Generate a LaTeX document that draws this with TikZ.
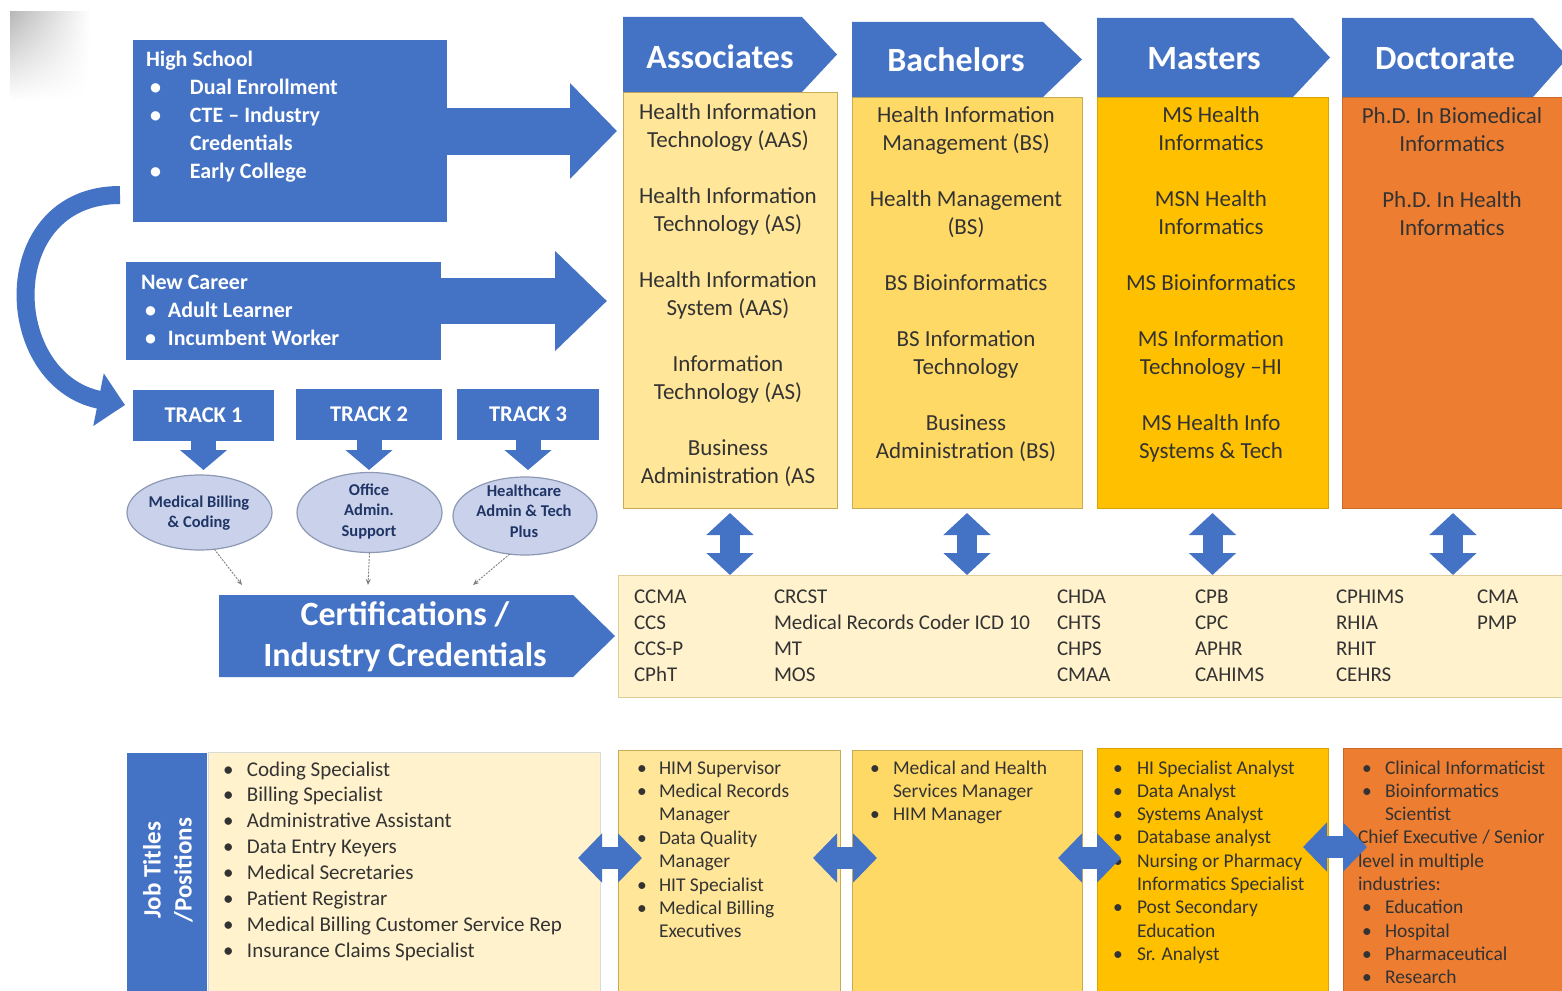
\documentclass[tikz,border=0pt]{standalone}
\usepackage{fontspec}
\setmainfont{Carlito}
\usetikzlibrary{arrows.meta,shapes.geometric,shadings}
\definecolor{bl}{HTML}{4472C4}
\definecolor{cA}{HTML}{FFE699}
\definecolor{cB}{HTML}{FFD966}
\definecolor{cM}{HTML}{FFC000}
\definecolor{cD}{HTML}{ED7D31}
\definecolor{cL}{HTML}{FFF2CC}
\definecolor{bord}{HTML}{C9AA55}
\definecolor{txt}{HTML}{333333}
\definecolor{ellf}{HTML}{C9D2EA}
\definecolor{elld}{HTML}{8C98B4}
\definecolor{navy}{HTML}{1F3566}
\newcommand{\fs}[2]{\fontsize{#1}{#2}\selectfont}
\newcommand{\bx}[2]{\makebox[#1][l]{•}#2}
\newcommand{\ind}[2]{\hspace*{#1}#2}
\newcommand{\fl}[1]{\rule{0pt}{#1pt}}
\begin{document}
\begin{tikzpicture}[x=1pt,y=-1pt,
  every node/.style={inner sep=0pt,outer sep=0pt},
  bluebox/.style={fill=bl},
  colbox/.style={fill=#1,draw=bord,line width=1},
  hdr/.style={text=white,font=\fs{34}{40}\bfseries},
  coltxt/.style={text=txt,align=center,anchor=north,font=\fs{23}{28}},
  wtxt/.style={text=white,align=left,anchor=north west,font=\fs{22}{28}\bfseries},
  certtxt/.style={text=txt,align=left,anchor=north west,font=\fs{21}{26}},
  jobtxt/.style={text=txt,align=left,anchor=north west,font=\fs{19.5}{23.3}},
  elltxt/.style={text=navy,align=center,font=\fs{16.5}{20.5}\bfseries},
  trk/.style={bluebox,minimum height=51,text=white,font=\fs{22.5}{24}\bfseries},
  ellbox/.style={ellipse,fill=ellf,draw=elld,line width=1.2},
  bigarrow/.style={draw=bl,line width=47,-{Triangle[length=47,width=93]}},
  downarrow/.style={draw=bl,line width=25,-{Triangle[length=20,width=46]}},
  vdbl/.style={draw=bl,line width=20,{Triangle[length=22,width=46]}-{Triangle[length=22,width=46]}},
  hdbl/.style={draw=bl,line width=22,{Triangle[length=24,width=48]}-{Triangle[length=24,width=48]}},
  thinarrow/.style={draw=gray,line width=0.9,dash pattern=on 2pt off 1.2pt,-{Stealth[length=6,width=5]}}
]
\useasboundingbox (0,0) rectangle (1562,990);
\fill[white] (0,0) rectangle (1562,990);
\shade[upper left=black!28,upper right=white,lower left=white,lower right=white] (10,12) rectangle (90,100);

% ---------- left blue boxes ----------
\node[bluebox,minimum width=314,minimum height=182] (hs) at (290,131) {};
\node[wtxt] (hst) at (146,44) {\fl{22}High School\\
  \ind{4pt}{\bx{40pt}{Dual Enrollment}}\\
  \ind{4pt}{\bx{40pt}{CTE – Industry}}\\
  \ind{44pt}{Credentials}\\
  \ind{4pt}{\bx{40pt}{Early College}}};
\node[bluebox,minimum width=315,minimum height=98] (nc) at (283.5,311) {};
\node[wtxt] (nct) at (141,267) {\fl{22}New Career\\
  \ind{4pt}{\bx{23pt}{Adult Learner}}\\
  \ind{4pt}{\bx{23pt}{Incumbent Worker}}};

\coordinate (nca) at (441,301);
\coordinate (ncb) at (607,301);
\coordinate (hsb) at (617,131);
\draw[bigarrow] (hs.east) -- (hsb);
\draw[draw=bl,line width=46,-{Triangle[length=52,width=97]}] (nca) -- (ncb);

% tracks
\node[trk,minimum width=141] (t1) at (203.5,415.5) {TRACK 1};
\node[trk,minimum width=146] (t2) at (369,414.5) {TRACK 2};
\node[trk,minimum width=142] (t3) at (528,414.5) {TRACK 3};

% curved arrow
\coordinate (cs) at (120,195);
\coordinate (ce) at (125,405);
\draw[draw=bl,line width=18,-{Triangle[length=27,width=52]}] (cs) .. controls (-5,195) and (0,380) .. (ce);

% ellipses
\node[ellbox,minimum width=145,minimum height=75] (e1) at (199.5,512.5) {};
\node[ellbox,minimum width=145,minimum height=80] (e2) at (369.5,512.5) {};
\node[ellbox,minimum width=144,minimum height=78] (e3) at (525,516) {};
\node[elltxt] (e1t) at (199,513) {Medical Billing\\\& Coding};
\node[elltxt] (e2t) at (369,511) {Office\\Admin.\\Support};
\node[elltxt] (e3t) at (524,511) {Healthcare\\Admin \& Tech\\Plus};

\draw[downarrow,shorten >=5] (t1.south) -- (t1.south |- e1.north);
\draw[downarrow,shorten >=2.5] (t2.south) -- (t2.south |- e2.north);
\draw[downarrow,shorten >=7] (t3.south) -- (t3.south |- e3.north);

% certifications arrow
\fill[bl] (219,595) -- (573,595) -- (615,636) -- (573,677) -- (219,677) -- cycle;
\node[text=white,align=center,font=\fs{34}{41}\bfseries] (certl) at (405,637) {Certifications /\\Industry Credentials};
\coordinate (k1) at (242,585);
\coordinate (k2) at (368,585);
\coordinate (k3) at (473,585);
\draw[thinarrow] (e1.-68) -- (k1);
\draw[thinarrow] (e2.south) -- (k2);
\draw[thinarrow] (e3.-112) -- (k3);

% ---------- degree columns ----------
\node[colbox=cA,minimum width=214,minimum height=416] (asc) at (730,300) {};
\node[colbox=cB,minimum width=230,minimum height=411] (bac) at (967,302.5) {};
\node[colbox=cM,draw=cM!85!black,minimum width=231,minimum height=411] (mas) at (1212.5,302.5) {};
\node[colbox=cD,draw=cD!85!black,minimum width=222,minimum height=411] (doc) at (1453,302.5) {};

\fill[bl] (623,17) -- (802,17) -- (837,54.5) -- (802,92) -- (623,92) -- cycle;
\fill[bl] (852,22) -- (1043,22) -- (1082,59.5) -- (1043,97) -- (852,97) -- cycle;
\fill[bl] (1097,18) -- (1293,18) -- (1330,57.5) -- (1293,97) -- (1097,97) -- cycle;
\fill[bl] (1342,18) -- (1533,18) -- (1568,57.5) -- (1533,97) -- (1342,97) -- cycle;
\node[hdr] (hA) at (720,57) {Associates};
\node[hdr] (hB) at (956,60) {Bachelors};
\node[hdr] (hM) at (1204,59) {Masters};
\node[hdr] (hD) at (1445,59) {Doctorate};

\node[coltxt] (tA) at (728,96) {\fl{23}Health Information\\Technology  (AAS)\\[28pt]Health Information\\Technology (AS)\\[28pt]Health Information\\System (AAS)\\[28pt]Information\\Technology (AS)\\[28pt]Business\\Administration (AS};
\node[coltxt] (tB) at (966,99) {\fl{23}Health Information\\Management (BS)\\[28pt]Health Management\\(BS)\\[28pt]BS Bioinformatics\\[28pt]BS Information\\Technology\\[28pt]Business\\Administration (BS)};
\node[coltxt] (tM) at (1211,99) {\fl{23}MS Health\\Informatics\\[28pt]MSN Health\\Informatics\\[28pt]MS Bioinformatics\\[28pt]MS Information\\Technology –HI\\[28pt]MS Health Info\\Systems \& Tech};
\node[coltxt] (tD) at (1452,100) {\fl{23}Ph.D. In Biomedical\\Informatics\\[28pt]Ph.D. In Health\\Informatics};

% ---------- certifications box ----------
\node[fill=cL,draw=bord!60,line width=1,minimum width=944,minimum height=122] (cert) at (1090,636) {};
\node[certtxt] (c1) at (634,582) {\fl{21}CCMA\\CCS\\CCS-P\\CPhT};
\node[certtxt] (c2) at (774,582) {\fl{21}CRCST\\Medical Records Coder ICD 10\\MT\\MOS};
\node[certtxt] (c3) at (1057,582) {\fl{21}CHDA\\CHTS\\CHPS\\CMAA};
\node[certtxt] (c4) at (1195,582) {\fl{21}CPB\\CPC\\APHR\\CAHIMS};
\node[certtxt] (c5) at (1336,582) {\fl{21}CPHIMS\\RHIA\\RHIT\\CEHRS};
\node[certtxt] (c6) at (1477,582) {\fl{21}CMA\\PMP};

\draw[vdbl,shorten <=5] (asc.south) -- (asc.south |- cert.north);
\draw[vdbl,shorten <=5] (bac.south) -- (bac.south |- cert.north);
\draw[vdbl,shorten <=5] (mas.south) -- (mas.south |- cert.north);
\draw[vdbl,shorten <=5] (doc.south) -- (doc.south |- cert.north);

% ---------- job titles ----------
\node[bluebox,minimum width=80,minimum height=245] (jl) at (167,875.5) {};
\node[rotate=90,text=white,align=center,font=\fs{25}{31}\bfseries] (jlt) at (168,870) {Job Titles\\/Positions};
\node[fill=cL,draw=black!15,line width=1,minimum width=392,minimum height=245] (j1) at (404,874.5) {};
\node[colbox=cA,minimum width=222,minimum height=245] (j2) at (729,872.5) {};
\node[colbox=cB,minimum width=230,minimum height=245] (j3) at (967,872.5) {};
\node[colbox=cM,draw=cM!85!black,minimum width=231,minimum height=247] (j4) at (1212.5,871.5) {};
\node[colbox=cD,draw=cD!85!black,minimum width=222,minimum height=247] (j5) at (1454,871.5) {};

\node[certtxt,font=\fs{21}{25.9}] (j1t) at (223,755) {\fl{21}\bx{24pt}{Coding Specialist}\\\bx{24pt}{Billing Specialist}\\\bx{24pt}{Administrative Assistant}\\\bx{24pt}{Data Entry Keyers}\\\bx{24pt}{Medical Secretaries}\\\bx{24pt}{Patient Registrar}\\\bx{24pt}{Medical Billing Customer Service Rep}\\\bx{24pt}{Insurance Claims Specialist}};
\node[jobtxt,font=\fs{19.5}{23.4}] (j2t) at (637,754.5) {\fl{19.5}\bx{22pt}{HIM Supervisor}\\\bx{22pt}{Medical Records}\\\ind{22pt}{Manager}\\\bx{22pt}{Data Quality}\\\ind{22pt}{Manager}\\\bx{22pt}{HIT Specialist}\\\bx{22pt}{Medical Billing}\\\ind{22pt}{Executives}};
\node[jobtxt] (j3t) at (870,754.5) {\fl{19.5}\bx{23pt}{Medical and Health}\\\ind{23pt}{Services Manager}\\\bx{23pt}{HIM Manager}};
\node[jobtxt] (j4t) at (1113,754.5) {\fl{19.5}\bx{24pt}{HI Specialist Analyst}\\\bx{24pt}{Data Analyst}\\\bx{24pt}{Systems Analyst}\\\bx{24pt}{Database analyst}\\\bx{24pt}{Nursing or Pharmacy}\\\ind{24pt}{Informatics Specialist}\\\bx{24pt}{Post Secondary}\\\ind{24pt}{Education}\\\bx{24pt}{Sr. Analyst}};
\node[jobtxt] (j5t) at (1362,754.5) {\fl{19.5}\bx{23pt}{Clinical Informaticist}\\\bx{23pt}{Bioinformatics}\\\ind{23pt}{Scientist}\\\hspace*{-4pt}Chief Executive / Senior\\\hspace*{-4pt}level in multiple\\\hspace*{-4pt}industries:\\\bx{23pt}{Education}\\\bx{23pt}{Hospital}\\\bx{23pt}{Pharmaceutical}\\\bx{23pt}{Research}};

\coordinate (h1a) at (578,858); \coordinate (h1b) at (642,858);
\coordinate (h2a) at (813,858); \coordinate (h2b) at (877,858);
\coordinate (h3a) at (1058,858); \coordinate (h3b) at (1121,858);
\coordinate (h4a) at (1303,847); \coordinate (h4b) at (1367,847);
\draw[hdbl] (h1a) -- (h1b);
\draw[hdbl] (h2a) -- (h2b);
\draw[hdbl] (h3a) -- (h3b);
\draw[hdbl] (h4a) -- (h4b);
\end{tikzpicture}
\end{document}
